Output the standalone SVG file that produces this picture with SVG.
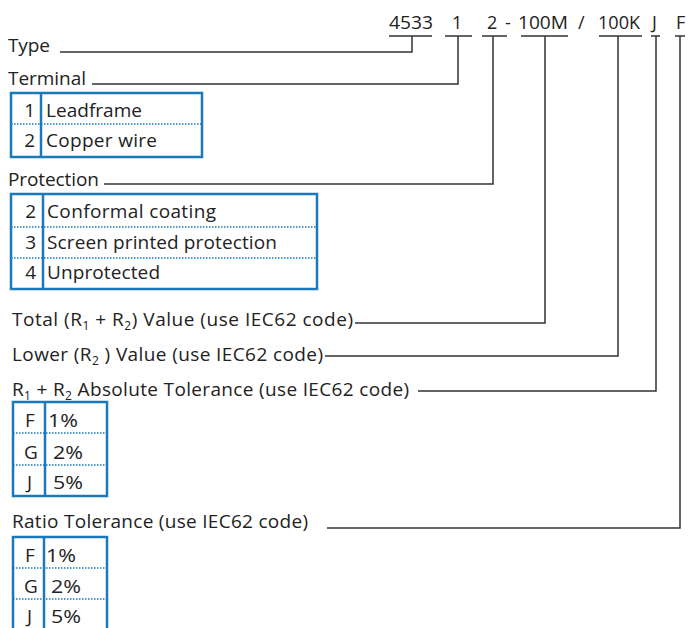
<svg xmlns="http://www.w3.org/2000/svg" width="697" height="628" viewBox="0 0 697 628">
<style>
text{font-family:"Open Sans","Noto Sans",sans-serif;font-size:19px;fill:#222}
.code{font-size:18px}
.sub{font-size:12px}
.r{text-anchor:end}
.box{fill:none;stroke:#1a78bb;stroke-width:2.5}
.dot{stroke:#1a78bb;stroke-width:1.3;stroke-dasharray:1.5 1.5;fill:none}
.conn{fill:none;stroke:#333;stroke-width:1.5}
</style>
<rect width="697" height="628" fill="#fff"/>
<g id="code">
<text class="code" x="389" y="29" textLength="44" lengthAdjust="spacingAndGlyphs">4533</text>
<text class="code" x="452" y="29">1</text>
<text class="code" x="487" y="29">2</text>
<text class="code" x="505" y="29">-</text>
<text class="code" x="518" y="29" textLength="50" lengthAdjust="spacingAndGlyphs">100M</text>
<text class="code" x="578" y="29">/</text>
<text class="code" x="598" y="29" textLength="42" lengthAdjust="spacingAndGlyphs">100K</text>
<text class="code" x="652" y="29">J</text>
<text class="code" x="676" y="29">F</text>
</g>
<g id="connectors" class="conn">
<path d="M389 36H432M412 36V52H60"/>
<path d="M445 36H472M458 36V84H92"/>
<path d="M482 36H507M493 36V184H104"/>
<path d="M521 36H568M545 36V323H355"/>
<path d="M599 36H642M618 36V356H325"/>
<path d="M651 36H660M656 36V391H418"/>
<path d="M675 36H685M680 36V528H327"/>
</g>
<g id="type"><text x="8" y="52" textLength="42">Type</text></g>
<g id="terminal">
<text x="8" y="85" textLength="78">Terminal</text>
<rect class="box" x="11" y="93" width="191" height="64"/>
<line class="box" x1="41" y1="93" x2="41" y2="157"/>
<line class="dot" x1="11" y1="124" x2="202" y2="124"/>
<text class="r" x="35" y="117">1</text><text x="46" y="117" textLength="96">Leadframe</text>
<text class="r" x="35" y="147">2</text><text x="46" y="147" textLength="111">Copper wire</text>
</g>
<g id="protection">
<text x="8" y="186" textLength="91">Protection</text>
<rect class="box" x="11" y="194" width="306" height="95"/>
<line class="box" x1="43" y1="194" x2="43" y2="289"/>
<line class="dot" x1="11" y1="227" x2="317" y2="227"/>
<line class="dot" x1="11" y1="258" x2="317" y2="258"/>
<text class="r" x="36" y="218">2</text><text x="47" y="218" textLength="169">Conformal coating</text>
<text class="r" x="36" y="249">3</text><text x="47" y="249" textLength="230">Screen printed protection</text>
<text class="r" x="36" y="279">4</text><text x="47" y="279" textLength="113">Unprotected</text>
</g>
<g id="total"><text x="12" y="326" textLength="341">Total (R<tspan class="sub" dy="4">1</tspan><tspan dy="-4"> + R</tspan><tspan class="sub" dy="4">2</tspan><tspan dy="-4">) Value (use IEC62 code)</tspan></text></g>
<g id="lower"><text x="12" y="361" textLength="311">Lower (R<tspan class="sub" dy="4">2</tspan><tspan dy="-4"> ) Value (use IEC62 code)</tspan></text></g>
<g id="abstol">
<text x="12" y="396" textLength="397">R<tspan class="sub" dy="4">1</tspan><tspan dy="-4"> + R</tspan><tspan class="sub" dy="4">2</tspan><tspan dy="-4"> Absolute Tolerance (use IEC62 code)</tspan></text>
<rect class="box" x="13" y="402" width="94" height="94"/>
<line class="box" x1="45" y1="402" x2="45" y2="496"/>
<line class="dot" x1="13" y1="433" x2="107" y2="433"/>
<line class="dot" x1="13" y1="465" x2="107" y2="465"/>
<text x="25" y="427">F</text><text x="48" y="427" textLength="30" lengthAdjust="spacingAndGlyphs">1%</text>
<text x="24" y="459">G</text><text x="53" y="459" textLength="30" lengthAdjust="spacingAndGlyphs">2%</text>
<text x="27" y="489">J</text><text x="53" y="489" textLength="30" lengthAdjust="spacingAndGlyphs">5%</text>
</g>
<g id="ratio">
<text x="12" y="528" textLength="296">Ratio Tolerance (use IEC62 code)</text>
<path class="box" d="M13 640V537H107V640"/>
<line class="box" x1="44" y1="537" x2="44" y2="640"/>
<line class="dot" x1="13" y1="568" x2="107" y2="568"/>
<line class="dot" x1="13" y1="599" x2="107" y2="599"/>
<text x="25" y="562">F</text><text x="46" y="562" textLength="30" lengthAdjust="spacingAndGlyphs">1%</text>
<text x="24" y="593">G</text><text x="51" y="593" textLength="30" lengthAdjust="spacingAndGlyphs">2%</text>
<text x="27" y="623">J</text><text x="51" y="623" textLength="30" lengthAdjust="spacingAndGlyphs">5%</text>
</g>
</svg>
